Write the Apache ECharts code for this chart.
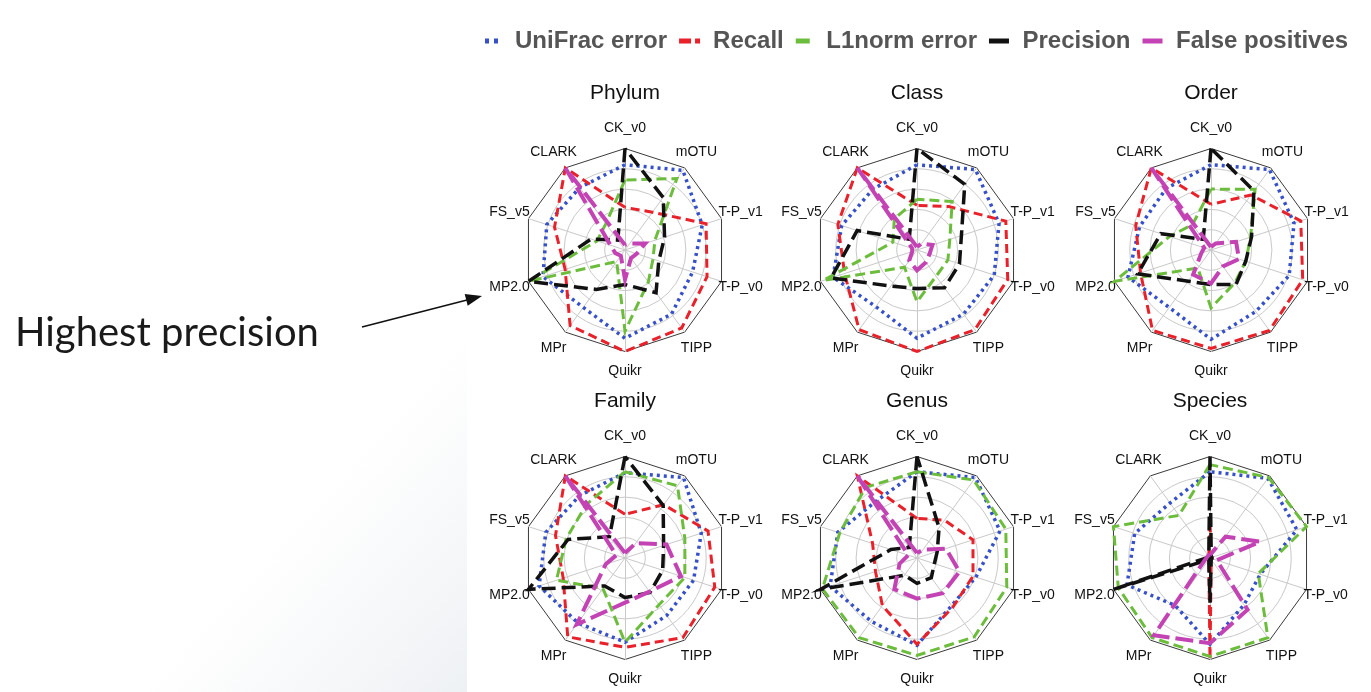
<!DOCTYPE html>
<html><head><meta charset="utf-8">
<script src="https://cdn.jsdelivr.net/npm/echarts@6/dist/echarts.min.js"></script>
<style>html,body{margin:0;padding:0;background:#fff;overflow:hidden}#c{width:1371px;height:692px}</style>
</head><body><div id="c"></div>
<script>
// Axis order as read clockwise from the top
const axisNames = ['CK_v0','mOTU','T-P_v1','T-P_v0','TIPP','Quikr','MPr','MP2.0','FS_v5','CLARK'];
const panelTitles = ['Phylum','Class','Order','Family','Genus','Species'];
const metricNames = ['UniFrac error','Recall','L1norm error','Precision','False positives'];

// values per axis (CK_v0, mOTU, T-P_v1, T-P_v0, TIPP, Quikr, MPr, MP2.0, FS_v5, CLARK)
const phylumUniFrac   = [0.84,0.97,0.80,0.70,0.78,0.87,0.70,0.85,0.81,0.76];
const phylumRecall    = [0.42,0.46,0.84,0.85,0.95,1.00,0.92,0.62,0.73,1.00];
const phylumL1norm    = [0.69,0.87,0.31,0.29,0.39,0.80,0.14,1.00,0.29,0.32];
const phylumPrecision = [1.00,0.64,0.41,0.35,0.52,0.34,0.48,1.00,0.35,0.12];
const phylumFalsePos  = [0.05,0.08,0.21,0.12,0.10,0.29,0.07,0.10,0.15,1.00];

const classUniFrac   = [0.84,0.98,0.85,0.80,0.78,0.87,0.69,0.87,0.78,0.74];
const classRecall    = [0.44,0.53,0.92,0.94,0.97,1.00,0.97,0.75,0.82,1.00];
const classL1norm    = [0.50,0.59,0.34,0.32,0.32,0.51,0.21,0.97,0.25,0.38];
const classPrecision = [1.00,0.80,0.46,0.44,0.46,0.38,0.44,0.89,0.62,0.13];
const classFalsePos  = [0.03,0.08,0.16,0.13,0.15,0.20,0.13,0.05,0.05,1.00];

const orderUniFrac   = [0.84,0.98,0.86,0.81,0.75,0.88,0.70,0.86,0.74,0.75];
const orderRecall    = [0.45,0.67,0.93,0.95,0.98,0.97,0.98,0.73,0.78,1.00];
const orderL1norm    = [0.60,0.74,0.41,0.36,0.40,0.57,0.22,1.00,0.43,0.31];
const orderPrecision = [1.00,0.72,0.42,0.36,0.42,0.34,0.38,0.76,0.52,0.13];
const orderFalsePos  = [0.03,0.08,0.26,0.29,0.20,0.33,0.30,0.10,0.07,1.00];

const familyUniFrac   = [0.84,0.98,0.79,0.71,0.70,0.83,0.79,0.89,0.82,0.76];
const familyRecall    = [0.43,0.65,0.86,0.93,0.97,0.88,0.96,0.64,0.72,1.00];
const familyL1norm    = [0.85,0.88,0.62,0.62,0.57,0.83,0.37,0.71,0.61,0.65];
const familyPrecision = [1.00,0.64,0.40,0.39,0.42,0.39,0.34,1.00,0.59,0.26];
const familyFalsePos  = [0.05,0.18,0.43,0.58,0.41,0.44,0.81,0.20,0.09,1.00];

const genusUniFrac   = [0.85,0.98,0.86,0.61,0.58,0.86,0.77,0.90,0.82,0.69];
const genusRecall    = [0.39,0.46,0.58,0.58,0.60,0.85,0.58,0.43,0.46,1.00];
const genusL1norm    = [0.85,0.95,0.92,0.93,0.96,0.96,0.97,0.98,0.80,0.86];
const genusPrecision = [1.00,0.37,0.21,0.18,0.24,0.25,0.21,1.00,0.27,0.13];
const genusFalsePos  = [0.05,0.10,0.30,0.44,0.43,0.40,0.38,0.18,0.09,1.00];

const speciesUniFrac   = [0.85,0.97,0.90,0.52,0.57,0.85,0.58,0.86,0.78,0.67];
const speciesRecall    = [0.36,0.02,0.02,0.02,0.02,1.00,0.02,0.02,0.02,0.02];
const speciesL1norm    = [0.92,0.98,1.00,0.50,0.97,0.97,0.97,0.95,1.00,0.52];
const speciesPrecision = [1.00,0.02,0.02,0.02,0.02,0.44,0.02,1.00,0.02,0.02];
const speciesFalsePos  = [0.03,0.26,0.52,0.07,0.63,0.84,0.94,0.05,0.03,0.03];

const panels = [
  [phylumUniFrac, phylumRecall, phylumL1norm, phylumPrecision, phylumFalsePos],
  [classUniFrac, classRecall, classL1norm, classPrecision, classFalsePos],
  [orderUniFrac, orderRecall, orderL1norm, orderPrecision, orderFalsePos],
  [familyUniFrac, familyRecall, familyL1norm, familyPrecision, familyFalsePos],
  [genusUniFrac, genusRecall, genusL1norm, genusPrecision, genusFalsePos],
  [speciesUniFrac, speciesRecall, speciesL1norm, speciesPrecision, speciesFalsePos]
];

// ---- styling / layout ----
const colors = ['#3550c8','#e8212a','#6cbd3c','#111111','#c443b4'];
const dashes = [[3,4],[9,5],[10,5],[14,6],[18,6]];
const widths = [3.5,3,3,3.5,4];
const icons = [
  'path://M0,0h4v5h-4zM9,0h4v5h-4z',
  'path://M0,0h12v5h-12zM16,0h5v5h-5z',
  'path://M0,0h14v5h-14z',
  'path://M0,0h20v5h-20z',
  'path://M0,0h20v5h-20z'
];
const centersX = [625, 917, 1211, 625, 917, 1210];
const centersY = [250, 250, 250, 558, 558, 558];
const titleTops = [83, 83, 83, 391, 391, 391];
const R = 101.5;
const FONT = 'Liberation Sans, Arial, Helvetica, sans-serif';

// ECharts lays indicators counter-clockwise; reorder so the picture reads clockwise
const ord = [0,9,8,7,6,5,4,3,2,1];
const indicator = ord.map(k => ({ name: axisNames[k], min: 0, max: 1 }));

const radars = [];
const series = [];
const titles = [];
panels.forEach((p, i) => {
  radars.push({
    center: [centersX[i], centersY[i]], radius: R, startAngle: 90,
    shape: 'circle', splitNumber: 5, indicator,
    nameGap: 20,
    axisName: { show: true, color: '#111', fontSize: 14, fontFamily: FONT, align: 'center', verticalAlign: 'middle' },
    axisLine: { show: true, lineStyle: { color: '#c9c9c9', width: 1 } },
    splitLine: { show: true, lineStyle: { color: ['#c9c9c9','#c9c9c9','#c9c9c9','#c9c9c9','#c9c9c9','rgba(0,0,0,0)'], width: 1 } },
    splitArea: { show: false }
  });
  radars.push({
    center: [centersX[i], centersY[i]], radius: R, startAngle: 90,
    shape: 'polygon', splitNumber: 1, indicator,
    axisName: { show: false },
    axisLine: { show: false },
    splitLine: { show: true, lineStyle: { color: '#3a3a3a', width: 1 } },
    splitArea: { show: false }
  });
  titles.push({
    text: panelTitles[i], left: centersX[i], top: titleTops[i], textAlign: 'center', padding: 0,
    textStyle: { fontSize: 21, fontWeight: 'normal', color: '#111', fontFamily: FONT }
  });
  p.forEach((vals, m) => {
    series.push({
      type: 'radar', name: metricNames[m], radarIndex: i * 2,
      symbol: 'none', silent: true, animation: false,
      itemStyle: { color: colors[m] },
      lineStyle: { color: colors[m], width: widths[m], type: dashes[m], cap: 'butt', join: 'miter' },
      data: [{ name: metricNames[m], value: ord.map(k => vals[k]) }]
    });
  });
});

const chart = echarts.init(document.getElementById('c'), null, { renderer: 'canvas' });
chart.setOption({
  backgroundColor: '#ffffff',
  animation: false,
  title: titles,
  legend: {
    left: 485, top: 29, padding: 0, itemGap: 12, itemWidth: 21, itemHeight: 5,
    selectedMode: false,
    textStyle: { fontSize: 24, fontWeight: 'bold', color: '#555555', fontFamily: FONT, padding: [0,0,0,8] },
    data: metricNames.map((n, m) => ({ name: n, icon: icons[m], itemStyle: { color: colors[m], borderWidth: 0 } }))
  },
  radar: radars,
  series,
  graphic: [
    { type: 'rect', silent: true, z: -10, shape: { x: 0, y: 0, width: 467, height: 692 },
      style: { fill: { type: 'linear', global: true, x: 290, y: 530, x2: 467, y2: 692,
        colorStops: [{ offset: 0, color: '#ffffff' }, { offset: 1, color: '#eef1f4' }] } } },
    { type: 'text', x: 15, y: 333, silent: true,
      style: { text: 'Highest precision', font: '40px Lato', fill: '#1a1a1a', verticalAlign: 'middle' } },
    { type: 'line', silent: true, shape: { x1: 362, y1: 327, x2: 467, y2: 300 },
      style: { stroke: '#111', lineWidth: 1.6 } },
    { type: 'polygon', silent: true, shape: { points: [[482, 296], [467.7, 305.7], [464.7, 294.1]] },
      style: { fill: '#111' } }
  ]
});
</script></body></html>
